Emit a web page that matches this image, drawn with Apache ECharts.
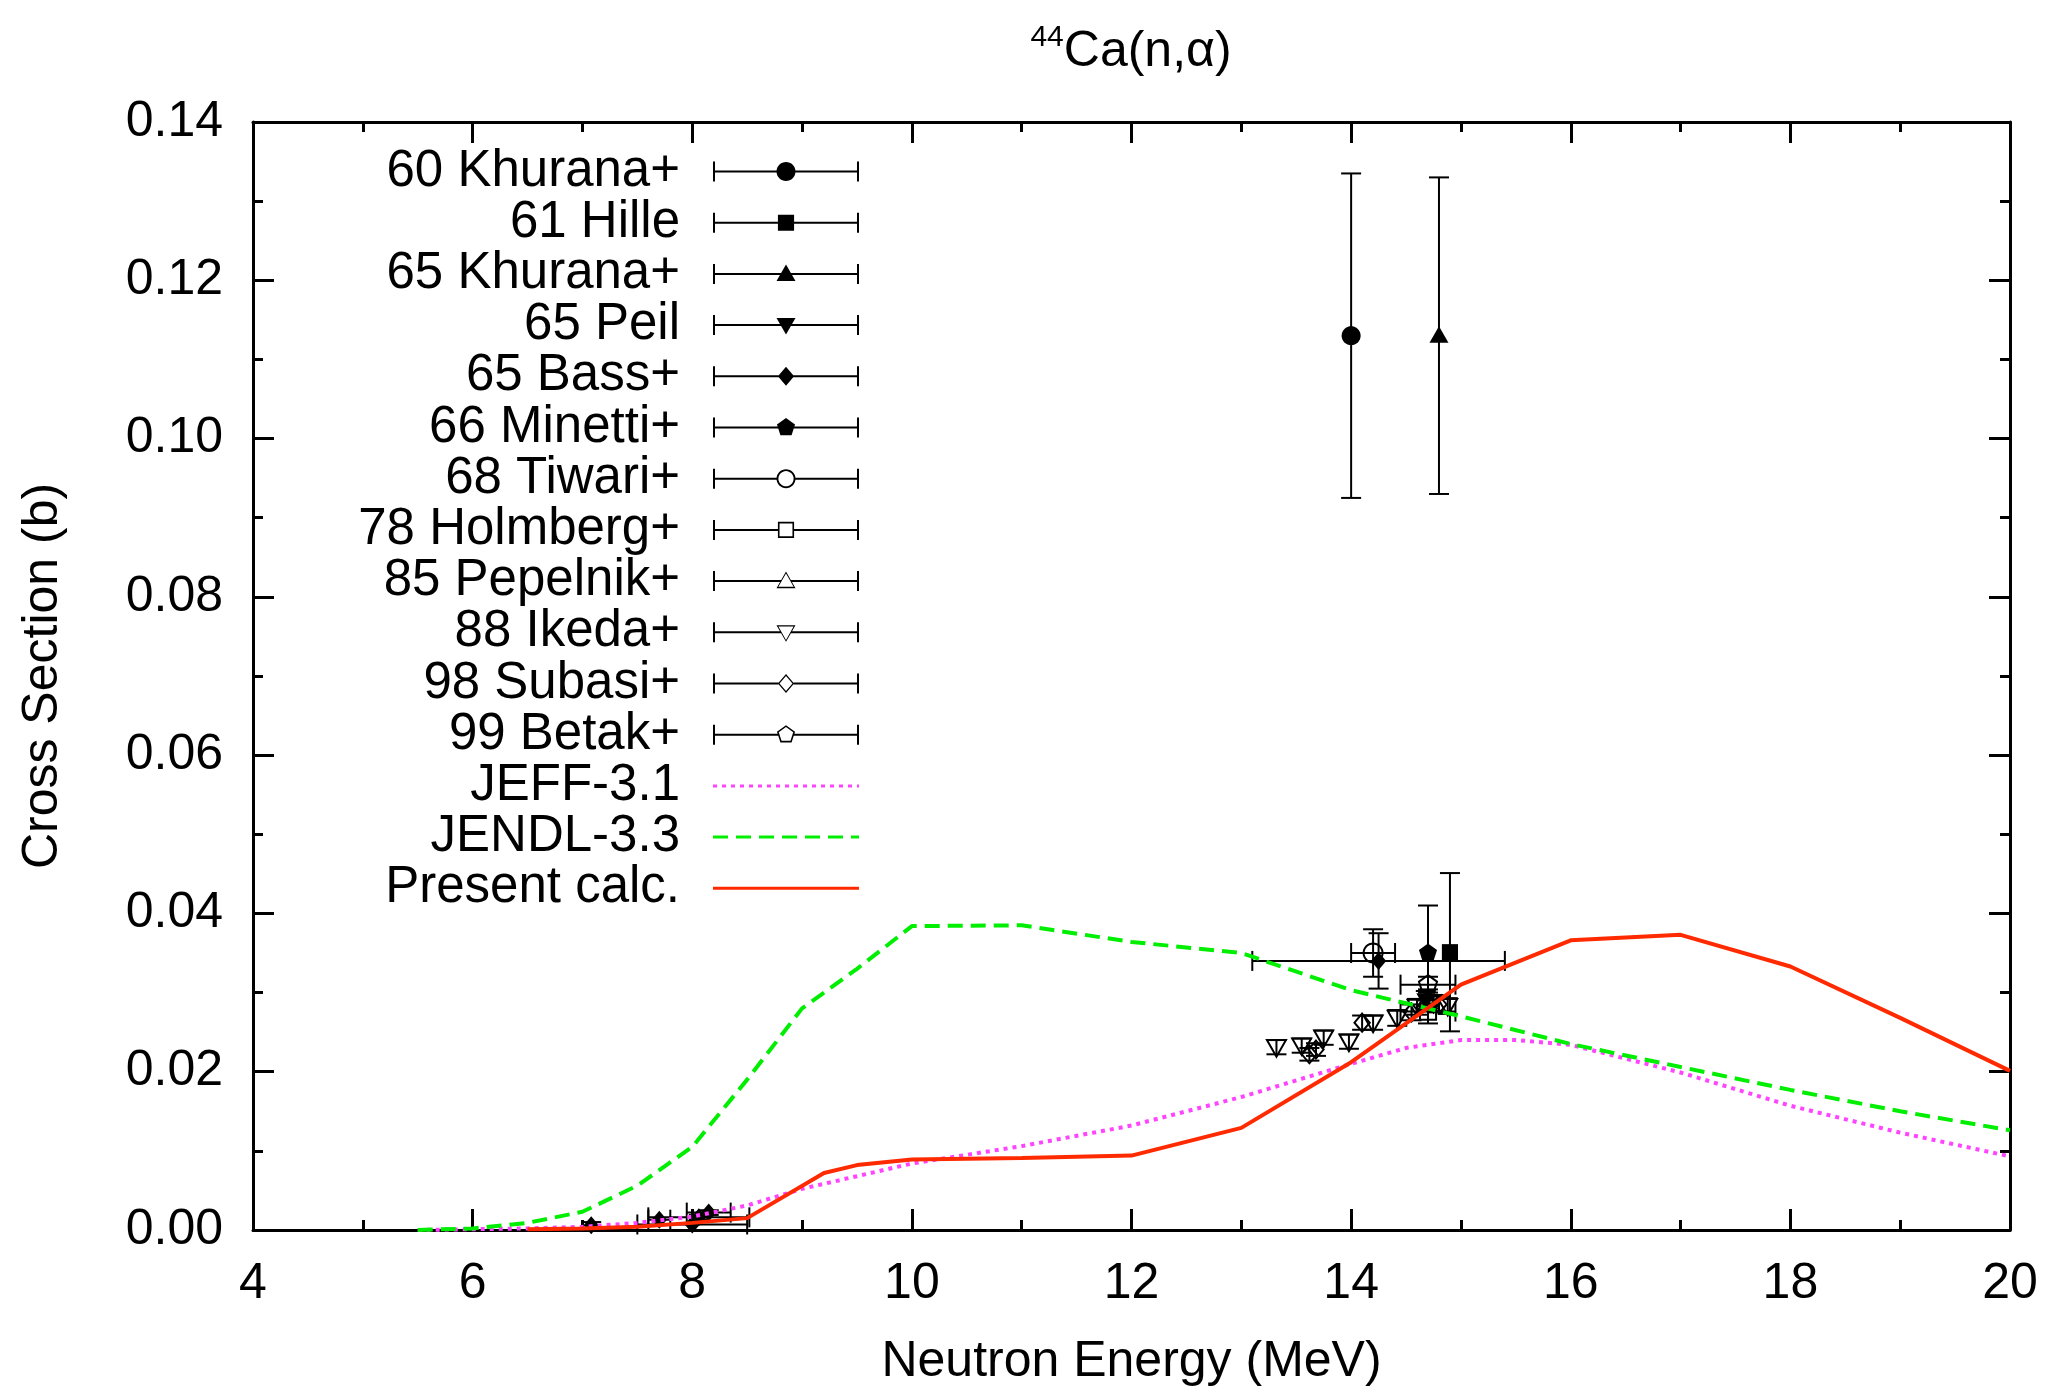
<!DOCTYPE html>
<html>
<head>
<meta charset="utf-8">
<title>44Ca(n,alpha)</title>
<script src="https://cdn.jsdelivr.net/npm/echarts@6/dist/echarts.min.js"></script>
<style>
html, body { margin: 0; padding: 0; background: #fff; }
#main { width: 2053px; height: 1392px; }
</style>
</head>
<body>
<div id="main"></div>
<script>
// experimental points: [energy MeV, cross section b, dE, dSigma]
var khurana60 = [[14.0, 0.1130, 0, 0.0205]];
var hille61 = [[14.9, 0.0351, 0, 0.0100]];
var khurana65 = [[14.8, 0.1130, 0, 0.0200]];
var peil65 = [[14.68, 0.0290, 0, 0.0012]];
var bass65 = [[7.08, 0.0006, 0, 0.0004], [7.7, 0.0013, 0.1, 0], [8.0, 0.0007, 0.5, 0],
              [8.06, 0.0016, 0.46, 0.0003], [8.15, 0.0022, 0.2, 0.0003], [14.25, 0.0340, 1.15, 0.0035]];
var minetti66 = [[14.7, 0.0350, 0, 0.0060]];
var tiwari68 = [[14.2, 0.0350, 0.2, 0.0030]];
var holmberg78 = [[14.7, 0.0276, 0.25, 0.0015]];
var pepelnik85 = [[14.7, 0.0292, 0, 0.0012]];
var ikeda88 = [[13.32, 0.0231, 0, 0.0009], [13.55, 0.0233, 0, 0.0009], [13.75, 0.0243, 0, 0.0009],
               [13.98, 0.0238, 0, 0.0009], [14.2, 0.0262, 0, 0.0009], [14.42, 0.0268, 0, 0.0010],
               [14.6, 0.0282, 0, 0.0010], [14.75, 0.0287, 0, 0.0010], [14.88, 0.0283, 0, 0.0010]];
var subasi98 = [[13.62, 0.0222, 0, 0.0008], [13.68, 0.0228, 0, 0.0008], [14.10, 0.0262, 0, 0.0009],
                [14.55, 0.0275, 0, 0.0010], [14.8, 0.0285, 0, 0.0010]];
var betak99 = [[14.7, 0.0310, 0.25, 0.0010]];

var expNames = ['60 Khurana+', '61 Hille', '65 Khurana+', '65 Peil', '65 Bass+', '66 Minetti+',
                '68 Tiwari+', '78 Holmberg+', '85 Pepelnik+', '88 Ikeda+', '98 Subasi+', '99 Betak+'];
var expData = [khurana60, hille61, khurana65, peil65, bass65, minetti66,
               tiwari68, holmberg78, pepelnik85, ikeda88, subasi98, betak99];

// evaluations / calculation
var jeff31 = [[5.5, 0], [6.0, 0.0001], [6.5, 0.0002], [7.0, 0.0004], [7.5, 0.0009], [8.0, 0.0017],
              [8.5, 0.0031], [9.0, 0.0052], [9.5, 0.0068], [10.0, 0.0084], [11.0, 0.0106], [12.0, 0.0132],
              [13.0, 0.0168], [14.0, 0.0210], [14.5, 0.0230], [15.0, 0.0240], [15.5, 0.0240], [16.0, 0.0234],
              [17.0, 0.0199], [18.0, 0.0157], [19.0, 0.0123], [20.0, 0.0093]];
var jendl33 = [[5.5, 0], [6.0, 0.0002], [6.5, 0.0009], [7.0, 0.0023], [7.5, 0.0056], [8.0, 0.0105],
               [8.5, 0.0190], [9.0, 0.0280], [9.5, 0.0330], [10.0, 0.0384], [11.0, 0.0385], [12.0, 0.0364],
               [13.0, 0.0350], [14.0, 0.0303], [15.0, 0.0270], [16.0, 0.0235], [17.0, 0.0206], [18.0, 0.0177],
               [19.0, 0.0150], [20.0, 0.0126]];
var present = [[6.5, 0.0001], [7.0, 0.0002], [7.5, 0.0004], [8.0, 0.0009], [8.5, 0.0015], [9.2, 0.0072],
               [9.5, 0.0082], [10.0, 0.0089], [11.0, 0.0091], [12.0, 0.0094], [13.0, 0.0129], [14.0, 0.0212],
               [15.0, 0.0310], [16.0, 0.0366], [17.0, 0.0373], [18.0, 0.0333], [19.0, 0.0268], [20.0, 0.0201]];
var curveNames = ['JEFF-3.1', 'JENDL-3.3', 'Present calc.'];

var xTicks = [4, 20, 2];
var yTicks = [0, 0.14, 0.02];

var FONT = 'Liberation Sans';
var expShape = ['circle', 'square', 'triUp', 'triDown', 'diamond', 'pentagon',
                'circle', 'square', 'triUp', 'triDown', 'diamond', 'pentagon'];
var expFilled = [true, true, true, true, true, true, false, false, false, false, false, false];
var curveStyle = [
  {color: '#ff44ff', width: 4, type: [4, 5]},
  {color: '#00ee00', width: 4, type: [15, 8]},
  {color: '#ff2a00', width: 4, type: 'solid'}
];

function ring(n) {
  var p = [];
  for (var i = 0; i < n; i++) {
    var a = -Math.PI / 2 + i * 2 * Math.PI / n;
    p.push([Math.cos(a), Math.sin(a)]);
  }
  return p;
}
var SHAPES = {
  circle: ring(32),
  square: [[-0.85, -0.85], [0.85, -0.85], [0.85, 0.85], [-0.85, 0.85]],
  triUp: [[0, -1], [1, 0.75], [-1, 0.75]],
  triDown: [[-1, -0.75], [1, -0.75], [0, 1]],
  diamond: [[0, -1], [0.85, 0], [0, 1], [-0.85, 0]],
  pentagon: ring(5)
};
var HALF = {circle: 1, square: 0.85, triUp: 0.571, triDown: 0.571, diamond: 0.85, pentagon: 0.851};

function pathOf(shape, cx, cy, r, rev) {
  var q = SHAPES[shape].map(function (p) { return [cx + p[0] * r, cy + p[1] * r]; });
  if (rev) q.reverse();
  return 'M' + q.map(function (p) { return p[0].toFixed(2) + ' ' + p[1].toFixed(2); }).join(' L') + ' Z ';
}
function rectPath(x0, y0, x1, y1) {
  return 'M' + x0 + ' ' + y0 + ' L' + x1 + ' ' + y0 + ' L' + x1 + ' ' + y1 + ' L' + x0 + ' ' + y1 + ' Z ';
}
function legendIcon(shape, filled) {
  var W = 146, H = 20, cx = 73, cy = 10, r = 9.5;
  var d = rectPath(0, 0, 2, H) + rectPath(W - 2, 0, W, H);
  if (filled) {
    d += rectPath(0, cy - 1, W, cy + 1) + pathOf(shape, cx, cy, r, false);
  } else {
    var h = HALF[shape] * r;
    d += rectPath(0, cy - 1, cx - h + 0.5, cy + 1) + rectPath(cx + h - 0.5, cy - 1, W, cy + 1);
    d += pathOf(shape, cx, cy, r, false) + pathOf(shape, cx, cy, r - 1.9, true);
  }
  return 'path://' + d;
}

function errRender(shape, filled) {
  return function (params, api) {
    var x = api.value(0), y = api.value(1), dx = api.value(2), dy = api.value(3);
    var c = api.coord([x, y]);
    var st = {stroke: '#000', lineWidth: 2};
    var cap = 10;
    var kids = [];
    if (dy > 0) {
      var t = api.coord([x, y + dy])[1], b = api.coord([x, y - dy])[1];
      kids.push({type: 'line', shape: {x1: c[0], y1: t, x2: c[0], y2: b}, style: st});
      kids.push({type: 'line', shape: {x1: c[0] - cap, y1: t, x2: c[0] + cap, y2: t}, style: st});
      kids.push({type: 'line', shape: {x1: c[0] - cap, y1: b, x2: c[0] + cap, y2: b}, style: st});
    }
    if (dx > 0) {
      var l = api.coord([x - dx, y])[0], r = api.coord([x + dx, y])[0];
      kids.push({type: 'line', shape: {x1: l, y1: c[1], x2: r, y2: c[1]}, style: st});
      kids.push({type: 'line', shape: {x1: l, y1: c[1] - cap, x2: l, y2: c[1] + cap}, style: st});
      kids.push({type: 'line', shape: {x1: r, y1: c[1] - cap, x2: r, y2: c[1] + cap}, style: st});
    }
    var rad = shape === 'diamond' ? 9 : 9.5;
    var pts = SHAPES[shape].map(function (p) { return [c[0] + p[0] * rad, c[1] + p[1] * rad]; });
    kids.push({
      type: 'polygon', shape: {points: pts},
      style: filled ? {fill: '#000'} : {fill: 'none', stroke: '#000', lineWidth: 2}
    });
    return {type: 'group', children: kids};
  };
}

var series = [];
var legendData = [];
expNames.forEach(function (name, i) {
  series.push({
    name: name, type: 'custom', data: expData[i],
    encode: {x: 0, y: 1},
    renderItem: errRender(expShape[i], expFilled[i]),
    itemStyle: {color: '#000'},
    z: 2, silent: true
  });
  legendData.push({
    name: name, icon: legendIcon(expShape[i], expFilled[i]),
    itemStyle: {color: '#000', borderWidth: 0, opacity: 1}
  });
});
[jeff31, jendl33, present].forEach(function (d, i) {
  var s = curveStyle[i];
  series.push({
    name: curveNames[i], type: 'line', data: d,
    showSymbol: false, symbol: 'none', z: 3, silent: true,
    lineStyle: {color: s.color, width: s.width, type: s.type, cap: 'butt'},
    itemStyle: {color: s.color}
  });
  legendData.push({
    name: curveNames[i],
    itemStyle: {color: 'rgba(0,0,0,0)', borderWidth: 0},
    lineStyle: {color: s.color, width: 3, type: s.type}
  });
});

function axisBase(ticks, show) {
  return {
    type: 'value', min: ticks[0], max: ticks[1], interval: ticks[2],
    axisLine: {show: true, onZero: false, lineStyle: {color: '#000', width: 3}},
    axisTick: {show: true, inside: true, length: 21, lineStyle: {color: '#000', width: 3}},
    minorTick: {show: true, splitNumber: 2, length: 10, lineStyle: {color: '#000', width: 3}},
    splitLine: {show: false},
    minorSplitLine: {show: false},
    axisLabel: {show: show, color: '#000', fontSize: 50, fontFamily: FONT},
    nameTextStyle: {color: '#000', fontSize: 50, fontFamily: FONT}
  };
}

var xMain = axisBase(xTicks, true);
xMain.position = 'bottom';
xMain.name = 'Neutron Energy (MeV)';
xMain.nameLocation = 'middle';
xMain.nameGap = 107;
xMain.axisLabel.margin = 29;
var xTop = axisBase(xTicks, false);
xTop.position = 'top';

var yMain = axisBase(yTicks, true);
yMain.position = 'left';
yMain.name = 'Cross Section (b)';
yMain.nameLocation = 'middle';
yMain.nameGap = 185;
yMain.axisLabel.margin = 30;
yMain.axisLabel.formatter = function (v) { return v.toFixed(2); };
var yRight = axisBase(yTicks, false);
yRight.position = 'right';

var chart = echarts.init(document.getElementById('main'));
chart.setOption({
  animation: false,
  backgroundColor: '#fff',
  title: {
    text: '{s|44}{m|Ca(n,α)}',
    left: 1131, top: 23, textAlign: 'center', padding: 0,
    textStyle: {
      fontWeight: 'normal',
      rich: {
        s: {fontSize: 30, fontFamily: FONT, fontWeight: 'normal', color: '#000', lineHeight: 30, verticalAlign: 'top'},
        m: {fontSize: 50, fontFamily: FONT, fontWeight: 'normal', color: '#000', lineHeight: 59}
      }
    }
  },
  grid: {left: 253, right: 43, top: 122, bottom: 157, containLabel: false},
  xAxis: [xMain, xTop],
  yAxis: [yMain, yRight],
  legend: {
    orient: 'vertical', left: 358, top: 146, padding: 0, itemGap: 0.2,
    itemWidth: 146, itemHeight: 20, align: 'right', selectedMode: false,
    formatter: function (n) { return '{t|' + n + '}'; },
    textStyle: {
      rich: {
        t: {width: 322, align: 'right', fontSize: 51, fontFamily: FONT, color: '#000',
            lineHeight: 51, padding: [0, 28, 0, 0]}
      }
    },
    data: legendData
  },
  series: series
});
</script>
</body>
</html>
